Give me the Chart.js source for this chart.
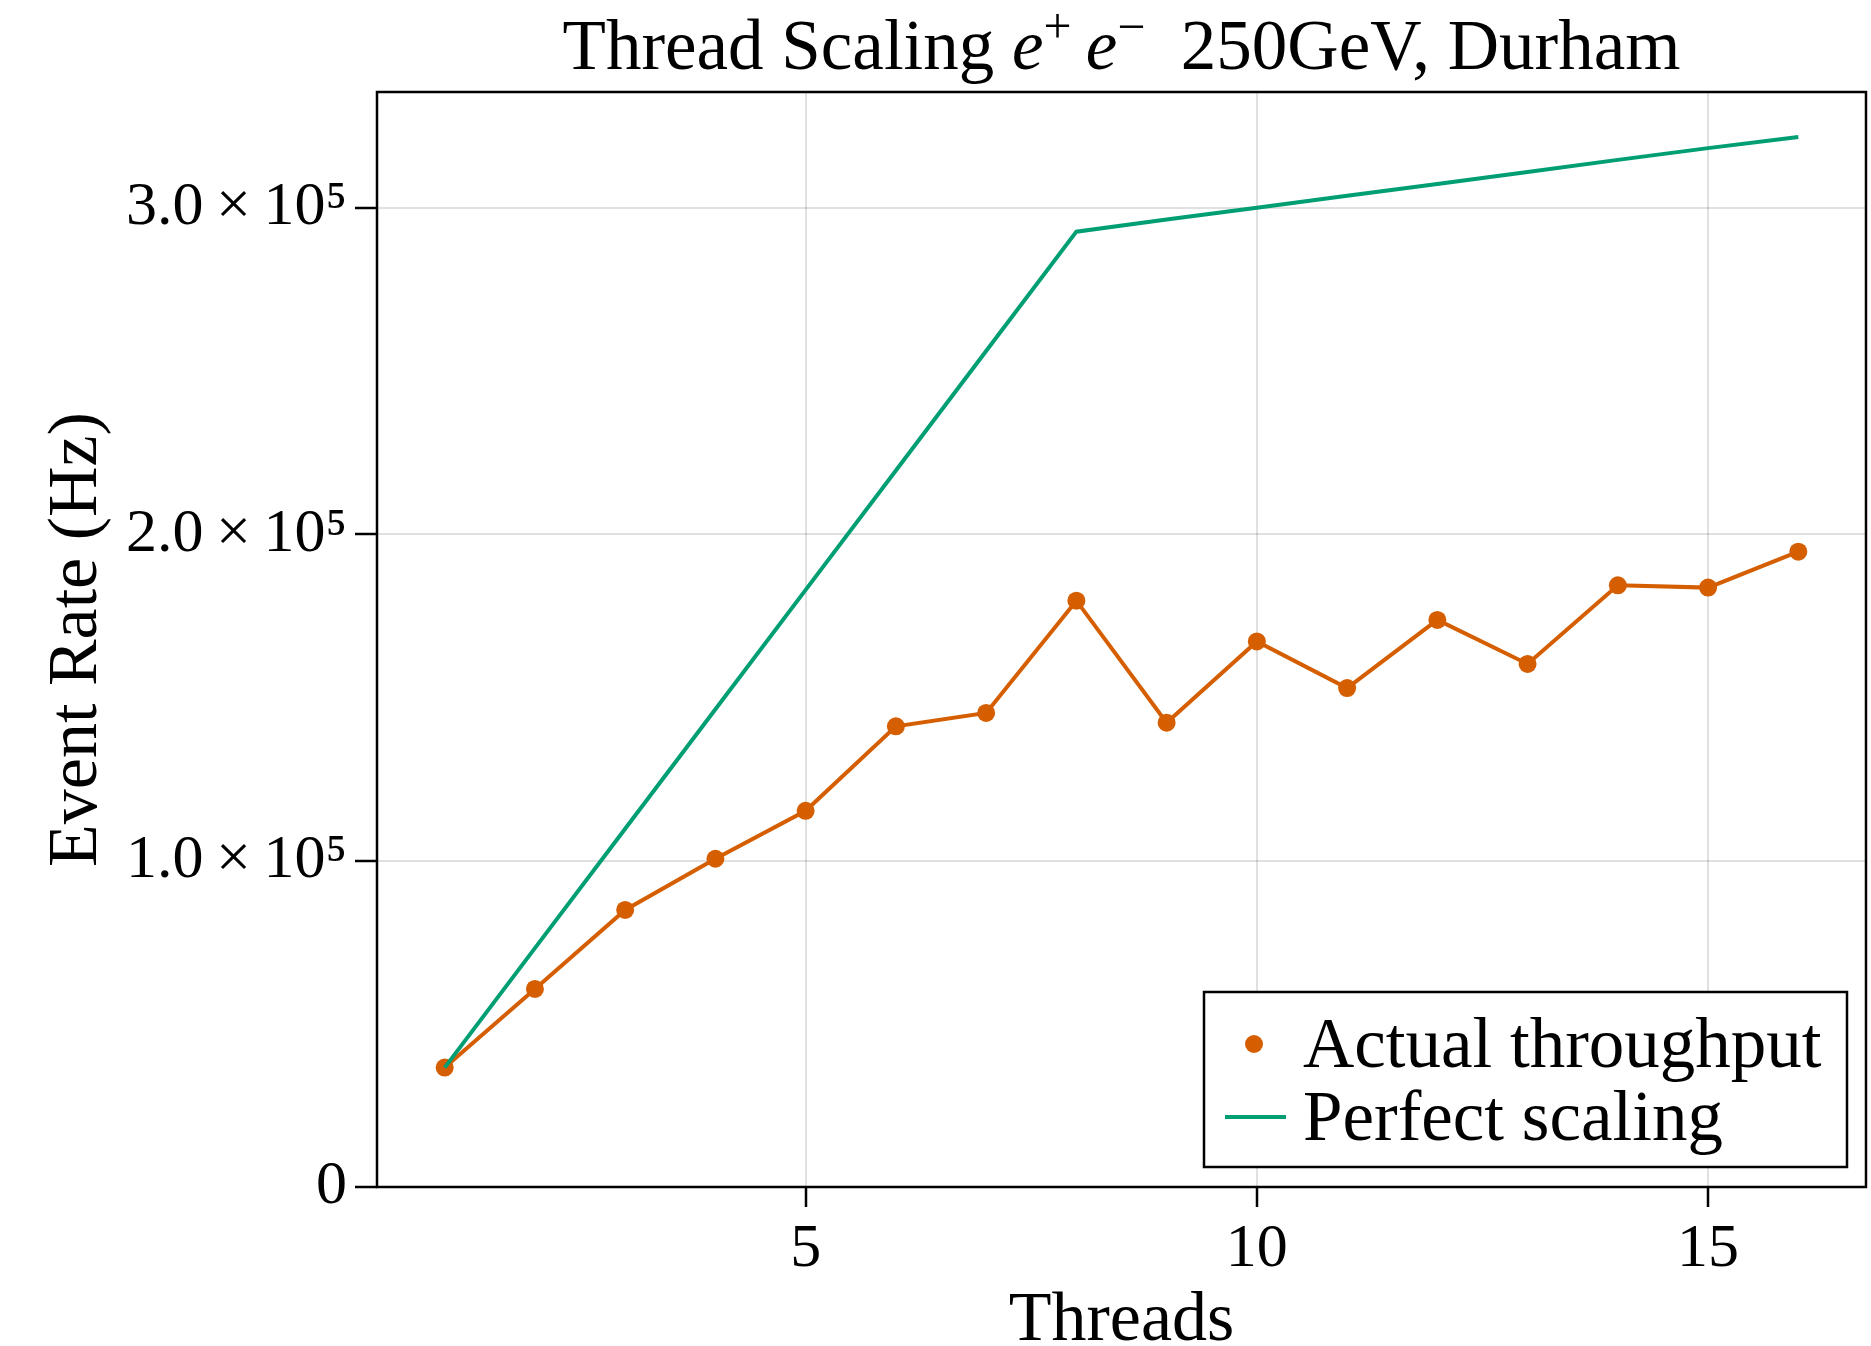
<!DOCTYPE html>
<html>
<head>
<meta charset="utf-8">
<script src="https://cdn.jsdelivr.net/npm/chart.js@4"></script>
<style>
  html, body { margin: 0; padding: 0; background: #fff; overflow: hidden; }
  canvas { display: block; }
</style>
</head>
<body>
<canvas id="myChart" width="1871" height="1346"></canvas>
<script>
const threads = [1, 2, 3, 4, 5, 6, 7, 8, 9, 10, 11, 12, 13, 14, 15, 16];
const actualRate = [36600, 60700, 84900, 100600, 115300, 141200, 145300, 179700,
                    142300, 167200, 152900, 173800, 160300, 184400, 183700, 194700];
const perfectRate = [36600, 73200, 109800, 146400, 183000, 219600, 256200, 292800,
                     296500, 300100, 303800, 307400, 311100, 314800, 318400, 321800];
const xTicks = [5, 10, 15];
const yTicks = [0, 100000, 200000, 300000];
const yTickLabels = ['0', '1.0\u2009×\u200910⁵', '2.0\u2009×\u200910⁵', '3.0\u2009×\u200910⁵'];
const seriesNames = ['Actual throughput', 'Perfect scaling'];

const ORANGE = '#D55E00';
const GREEN = '#009E73';
const FONT = "'Liberation Serif', 'DejaVu Serif', serif";

// box around the plot, title with math runs, legend inside the plot
const decorations = {
    id: 'decorations',
    afterDraw(chart) {
        const ctx = chart.ctx;
        const a = chart.chartArea;
        ctx.save();

        // frame
        ctx.strokeStyle = '#000';
        ctx.lineWidth = 2.5;
        ctx.strokeRect(a.left, a.top, a.right - a.left, a.bottom - a.top);

        // title
        const size = 71;
        const runs = [
            { t: 'Thread Scaling ', f: `${size}px ${FONT}`, dy: 0 },
            { t: 'e', f: `italic ${size}px ${FONT}`, dy: 0 },
            { t: '+', f: `${size * 0.7}px ${FONT}`, dy: -26 },
            { t: '\u2009e', f: `italic ${size}px ${FONT}`, dy: 0 },
            { t: '−', f: `${size * 0.7}px ${FONT}`, dy: -26 },
            { t: '  250GeV, Durham', f: `${size}px ${FONT}`, dy: 0 }
        ];
        let total = 0;
        runs.forEach(r => { ctx.font = r.f; r.w = ctx.measureText(r.t).width; total += r.w; });
        let x = (a.left + a.right) / 2 - total / 2;
        const base = 69;
        ctx.fillStyle = '#000';
        ctx.textBaseline = 'alphabetic';
        ctx.textAlign = 'left';
        runs.forEach(r => { ctx.font = r.f; ctx.fillText(r.t, x, base + r.dy); x += r.w; });

        // legend
        const bw = 643, bh = 175;
        const bx = a.right - 19 - bw, by = a.bottom - 20 - bh;
        ctx.fillStyle = '#fff';
        ctx.fillRect(bx, by, bw, bh);
        ctx.strokeStyle = '#000';
        ctx.lineWidth = 2.5;
        ctx.strokeRect(bx, by, bw, bh);

        const row1 = by + 52, row2 = by + 125;
        ctx.fillStyle = ORANGE;
        ctx.beginPath();
        ctx.arc(bx + 50, row1, 9, 0, Math.PI * 2);
        ctx.fill();
        ctx.strokeStyle = GREEN;
        ctx.lineWidth = 4;
        ctx.beginPath();
        ctx.moveTo(bx + 21, row2);
        ctx.lineTo(bx + 82, row2);
        ctx.stroke();

        ctx.fillStyle = '#000';
        ctx.font = `71px ${FONT}`;
        ctx.fillText(seriesNames[0], bx + 99, row1 + 23);
        ctx.fillText(seriesNames[1], bx + 99, row2 + 23);
        ctx.restore();
    }
};

const config = {
    type: 'line',
    data: {
        datasets: [{
            label: seriesNames[0],
            data: threads.map((t, i) => ({ x: t, y: actualRate[i] })),
            borderColor: ORANGE,
            backgroundColor: ORANGE,
            borderWidth: 4,
            pointRadius: 9,
            pointBorderWidth: 0,
            order: 1
        }, {
            label: seriesNames[1],
            data: threads.map((t, i) => ({ x: t, y: perfectRate[i] })),
            borderColor: GREEN,
            backgroundColor: GREEN,
            borderWidth: 4,
            pointRadius: 0,
            order: 0
        }]
    },
    options: {
        responsive: false,
        animation: false,
        devicePixelRatio: 1,
        layout: { autoPadding: false, padding: { top: 92, right: 5, left: 0, bottom: 0 } },
        plugins: {
            legend: { display: false },
            title: { display: false },
            tooltip: { enabled: false }
        },
        scales: {
            x: {
                type: 'linear',
                min: 0.25,
                max: 16.75,
                afterBuildTicks(scale) { scale.ticks = xTicks.map(v => ({ value: v })); },
                afterFit(scale) {
                    scale.height = 159;
                    scale.paddingLeft = 0;
                    scale.paddingRight = 0;
                },
                border: { display: false },
                grid: {
                    color: 'rgba(0,0,0,0.12)',
                    lineWidth: 2,
                    tickColor: '#000',
                    tickWidth: 2.5,
                    tickLength: 20
                },
                ticks: {
                    color: '#000',
                    padding: 6,
                    maxRotation: 0,
                    font: { family: FONT, size: 62 }
                },
                title: {
                    display: true,
                    text: 'Threads',
                    color: '#000',
                    padding: { top: 0, bottom: -11 },
                    font: { family: FONT, size: 70, lineHeight: 1 }
                }
            },
            y: {
                min: 0,
                max: 335600,
                afterBuildTicks(scale) { scale.ticks = yTicks.map(v => ({ value: v })); },
                afterFit(scale) { scale.width = 377; },
                border: { display: false },
                grid: {
                    color: 'rgba(0,0,0,0.12)',
                    lineWidth: 2,
                    tickColor: '#000',
                    tickWidth: 2.5,
                    tickLength: 22
                },
                ticks: {
                    color: '#000',
                    padding: 8,
                    font: { family: FONT, size: 62 },
                    callback: function (value) {
                        const i = yTicks.indexOf(value);
                        return i >= 0 ? yTickLabels[i] : '';
                    }
                },
                title: {
                    display: true,
                    text: 'Event Rate (Hz)',
                    color: '#000',
                    padding: { top: 43, bottom: 0 },
                    font: { family: FONT, size: 70, lineHeight: 1 }
                }
            }
        }
    },
    plugins: [decorations]
};

const myChart = new Chart(document.getElementById('myChart'), config);
</script>
</body>
</html>
